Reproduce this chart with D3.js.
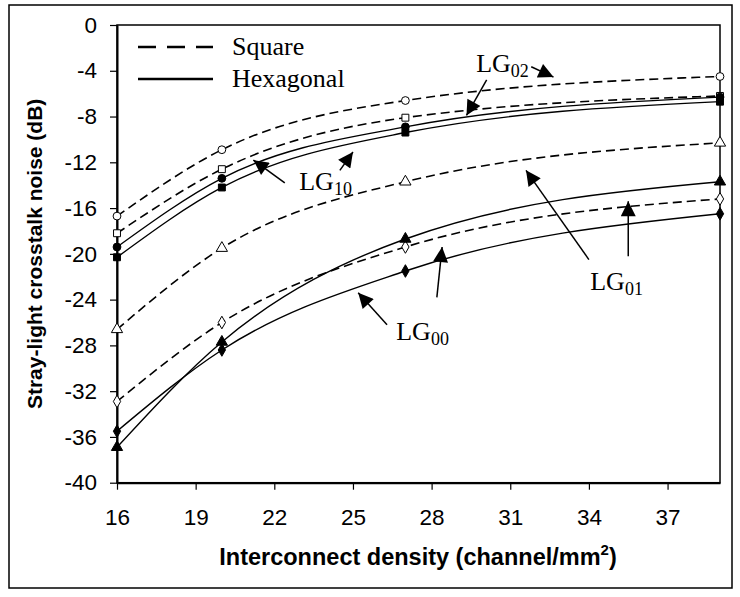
<!DOCTYPE html>
<html>
<head>
<meta charset="utf-8">
<script src="https://cdn.jsdelivr.net/npm/d3@7"></script>
<style>
  body { margin: 0; background: #fff; }
  svg { display: block; }
  .tick text { font-family: Arial, "Liberation Sans", sans-serif; font-size: 22.5px; fill: #000; }
</style>
</head>
<body>
<svg id="chart" width="740" height="597"></svg>
<script>
// interconnect density values where the markers sit
const density = [16, 20, 27, 39]

// square lattice (dashed, open markers)
const sq_circle = [-16.7, -10.9, -6.6, -4.5]
const sq_square = [-18.2, -12.6, -8.1, -6.2]
const sq_triangle = [-26.6, -19.5, -13.7, -10.3]
const sq_diamond = [-32.9, -26.0, -19.4, -15.2]

// hexagonal lattice (solid, filled markers)
const hex_circle = [-19.4, -13.4, -8.9, -6.3]
const hex_square = [-20.3, -14.2, -9.4, -6.7]
const hex_triangle = [-36.9, -27.7, -18.7, -13.7]
const hex_diamond = [-35.5, -28.4, -21.5, -16.5]

const xTicks = [16, 19, 22, 25, 28, 31, 34, 37]
const yTicks = [0, -4, -8, -12, -16, -20, -24, -28, -32, -36, -40]

const series = [
    { values: sq_circle, dashed: true, marker: 'circle', filled: false },
    { values: sq_square, dashed: true, marker: 'square', filled: false },
    { values: sq_triangle, dashed: true, marker: 'triangle', filled: false },
    { values: sq_diamond, dashed: true, marker: 'diamond', filled: false },
    { values: hex_circle, dashed: false, marker: 'circle', filled: true },
    { values: hex_square, dashed: false, marker: 'square', filled: true },
    { values: hex_triangle, dashed: false, marker: 'triangle', filled: true },
    { values: hex_diamond, dashed: false, marker: 'diamond', filled: true }
]

// mode labels with their arrows (label position, arrows as [x1, y1, x2, y2] in data units)
const labels = [
    { main: 'LG', sub: '02', x: 29.7, y: -4.1, arrows: [[30.1, -4.8, 29.33, -7.9], [31.8, -3.65, 32.65, -4.55]] },
    { main: 'LG', sub: '10', x: 22.95, y: -14.4, arrows: [[22.4, -13.8, 21.2, -11.8], [24.5, -12.7, 25.0, -11.1]] },
    { main: 'LG', sub: '01', x: 34.05, y: -23.2, arrows: [[34.0, -20.5, 31.6, -12.7], [35.5, -20.2, 35.5, -15.4]] },
    { main: 'LG', sub: '00', x: 26.65, y: -27.5, arrows: [[26.3, -26.2, 25.2, -23.4], [28.2, -23.8, 28.4, -19.4]] }
]

let svg = d3.select('#chart')

svg.append('rect')
    .attr('x', 9).attr('y', 5)
    .attr('width', 723).attr('height', 583)
    .attr('fill', '#fff')
    .attr('stroke', '#000')
    .attr('stroke-width', 1.5)

let xScale = d3.scaleLinear()
    .domain([16, 39])
    .range([117, 720])

let yScale = d3.scaleLinear()
    .domain([-40, 0])
    .range([482.7, 25])

// plot frame
svg.append('rect')
    .attr('x', xScale(16)).attr('y', yScale(0))
    .attr('width', xScale(39) - xScale(16))
    .attr('height', yScale(-40) - yScale(0))
    .attr('fill', 'none')
    .attr('stroke', '#000')
    .attr('stroke-width', 1.5)

// plain hyphen for negatives, like the original
let fmt = d => String(d)

let xAxis = svg.append('g')
    .attr('transform', `translate(0, ${yScale(-40)})`)
    .call(d3.axisBottom(xScale).tickValues(xTicks).tickFormat(fmt).tickSize(7).tickSizeOuter(0).tickPadding(19))
xAxis.select('.domain').attr('stroke-width', 2)
xAxis.selectAll('.tick line').attr('stroke-width', 1.2)

let yAxis = svg.append('g')
    .attr('transform', `translate(${xScale(16)}, 0)`)
    .call(d3.axisLeft(yScale).tickValues(yTicks).tickFormat(fmt).tickSize(7).tickSizeOuter(0).tickPadding(13))
yAxis.select('.domain').attr('stroke-width', 2)
yAxis.selectAll('.tick line').attr('stroke-width', 1.2)

svg.append('text')
    .attr('transform', `translate(42, ${(yScale(0) + yScale(-40)) / 2}) rotate(-90)`)
    .attr('text-anchor', 'middle')
    .style('font-family', 'Arial, "Liberation Sans", sans-serif')
    .style('font-weight', 'bold')
    .style('font-size', '21px')
    .text('Stray-light crosstalk noise (dB)')

let xTitle = svg.append('text')
    .attr('x', 418).attr('y', 565)
    .attr('text-anchor', 'middle')
    .style('font-family', 'Arial, "Liberation Sans", sans-serif')
    .style('font-weight', 'bold')
    .style('font-size', '23.5px')
xTitle.append('tspan').text('Interconnect density (channel/mm')
xTitle.append('tspan').attr('dy', -10).style('font-size', '15px').text('2')
xTitle.append('tspan').attr('dy', 10).text(')')

let line = d3.line()
    .x((d, i) => xScale(density[i]))
    .y(d => yScale(d))
    .curve(d3.curveMonotoneX)

series.forEach(s => {
    svg.append('path')
        .datum(s.values)
        .attr('d', line)
        .attr('fill', 'none')
        .attr('stroke', '#000')
        .attr('stroke-width', s.dashed ? 1.6 : 1.4)
        .attr('stroke-dasharray', s.dashed ? '9,5' : null)
})

let symbolType = { circle: d3.symbolCircle, square: d3.symbolSquare, triangle: d3.symbolTriangle, diamond: d3.symbolDiamond }
let symbolSize = { circle: 48, square: 48, triangle: 55, diamond: 46 }

series.forEach(s => {
    svg.append('g').selectAll('path')
        .data(s.values)
        .join('path')
        .attr('transform', (d, i) => `translate(${xScale(density[i])}, ${yScale(d)})`)
        .attr('d', d3.symbol().type(symbolType[s.marker]).size(symbolSize[s.marker]))
        .attr('fill', s.filled ? '#000' : '#fff')
        .attr('stroke', '#000')
        .attr('stroke-width', 1)
})

// legend
let legend = [
    { name: 'Square', dashed: true, y: 47 },
    { name: 'Hexagonal', dashed: false, y: 79 }
]
legend.forEach(l => {
    svg.append('line')
        .attr('x1', 138).attr('x2', 213)
        .attr('y1', l.y).attr('y2', l.y)
        .attr('stroke', '#000')
        .attr('stroke-width', 2.6)
        .attr('stroke-dasharray', l.dashed ? '18,11' : null)
    svg.append('text')
        .attr('x', 232).attr('y', l.y + 8)
        .style('font-family', '"Times New Roman", "Liberation Serif", serif')
        .style('font-size', '26px')
        .text(l.name)
})

// arrow heads
svg.append('defs').append('marker')
    .attr('id', 'head')
    .attr('viewBox', '0 0 10 10')
    .attr('refX', 10).attr('refY', 5)
    .attr('markerWidth', 19).attr('markerHeight', 15)
    .attr('markerUnits', 'userSpaceOnUse')
    .attr('orient', 'auto')
    .append('path')
    .attr('d', 'M0,0L10,5L0,10Z')
    .attr('fill', '#000')

labels.forEach(l => {
    let t = svg.append('text')
        .attr('x', xScale(l.x)).attr('y', yScale(l.y))
        .style('font-family', '"Times New Roman", "Liberation Serif", serif')
        .style('font-size', '26px')
    t.append('tspan').text(l.main)
    t.append('tspan').attr('dy', 5).style('font-size', '18px').text(l.sub)

    l.arrows.forEach(a => {
        svg.append('line')
            .attr('x1', xScale(a[0])).attr('y1', yScale(a[1]))
            .attr('x2', xScale(a[2])).attr('y2', yScale(a[3]))
            .attr('stroke', '#000')
            .attr('stroke-width', 1.5)
            .attr('marker-end', 'url(#head)')
    })
})
</script>
</body>
</html>
